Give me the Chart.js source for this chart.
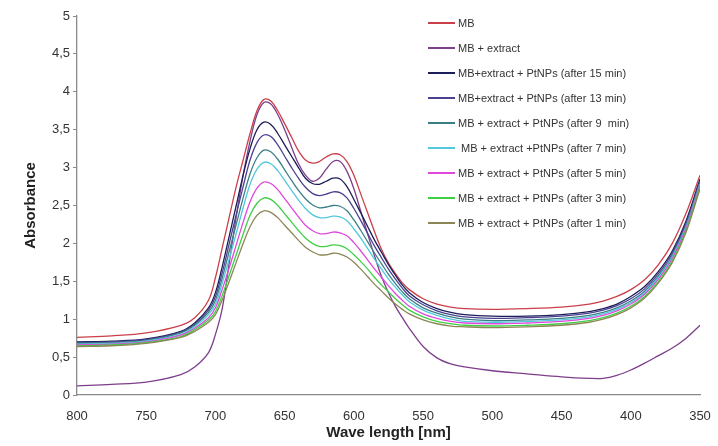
<!DOCTYPE html>
<html>
<head>
<meta charset="utf-8">
<script src="https://cdn.jsdelivr.net/npm/chart.js@4.4.1/dist/chart.umd.min.js"></script>
<style>
  body { margin: 0; background: #fff; }
  #wrap { position: relative; width: 718px; height: 446px; }
  #spectraChart { position: absolute; left: 0; top: 0; }
  #legend-container { position: absolute; left: 428px; top: 11px; font-family: Arial, "Liberation Sans", sans-serif; font-size: 11px; color: #333; }
  .legend-item { display: flex; align-items: center; height: 24.9px; }
  .color-box { display: inline-block; width: 27px; height: 2px; margin-right: 3px; }
  .legend-label { white-space: pre; }
</style>
</head>
<body>
<div id="wrap">
  <canvas id="spectraChart" width="718" height="446"></canvas>
  <div id="legend-container"></div>
</div>
<script>
const wavelengths = [800, 775, 750, 725, 715, 705, 700, 695, 690, 685, 680, 675, 670, 665, 660, 655, 650, 645, 640, 635, 630, 625, 620, 615, 610, 605, 600, 595, 590, 585, 580, 575, 570, 565, 560, 550, 540, 530, 520, 500, 475, 450, 430, 420, 410, 400, 390, 380, 370, 360, 350];

const mb = [0.76, 0.78, 0.82, 0.92, 1.02, 1.25, 1.55, 1.95, 2.35, 2.75, 3.1, 3.45, 3.75, 3.9, 3.88, 3.75, 3.58, 3.4, 3.22, 3.1, 3.06, 3.08, 3.14, 3.18, 3.17, 3.08, 2.9, 2.65, 2.4, 2.15, 1.92, 1.74, 1.6, 1.48, 1.39, 1.27, 1.2, 1.16, 1.14, 1.13, 1.14, 1.16, 1.2, 1.24, 1.3, 1.39, 1.52, 1.72, 2.0, 2.4, 2.9];
const mbExtract = [0.12, 0.14, 0.17, 0.27, 0.37, 0.56, 0.8, 1.15, 1.75, 2.35, 2.9, 3.35, 3.7, 3.86, 3.84, 3.7, 3.5, 3.27, 3.05, 2.9, 2.82, 2.86, 2.98, 3.08, 3.08, 2.95, 2.72, 2.42, 2.12, 1.83, 1.56, 1.35, 1.17, 1.02, 0.88, 0.64, 0.49, 0.41, 0.37, 0.32, 0.28, 0.24, 0.22, 0.22, 0.26, 0.33, 0.42, 0.52, 0.62, 0.75, 0.92];
const after15 = [0.70, 0.71, 0.74, 0.84, 0.95, 1.15, 1.35, 1.7, 2.1, 2.5, 2.9, 3.25, 3.5, 3.6, 3.57, 3.45, 3.3, 3.15, 3.0, 2.86, 2.79, 2.78, 2.82, 2.86, 2.85, 2.75, 2.58, 2.4, 2.22, 2.04, 1.88, 1.72, 1.58, 1.45, 1.35, 1.22, 1.14, 1.09, 1.06, 1.04, 1.04, 1.06, 1.1, 1.14, 1.2, 1.3, 1.43, 1.63, 1.9, 2.3, 2.85];
const after13 = [0.69, 0.70, 0.73, 0.83, 0.93, 1.12, 1.3, 1.62, 2.0, 2.38, 2.75, 3.1, 3.33, 3.43, 3.41, 3.3, 3.15, 3.0, 2.86, 2.74, 2.66, 2.63, 2.65, 2.68, 2.67, 2.6, 2.46, 2.3, 2.13, 1.96, 1.81, 1.66, 1.53, 1.41, 1.31, 1.19, 1.11, 1.06, 1.03, 1.01, 1.02, 1.04, 1.08, 1.12, 1.18, 1.27, 1.4, 1.6, 1.87, 2.27, 2.82];
const after9 = [0.68, 0.69, 0.72, 0.82, 0.92, 1.09, 1.25, 1.55, 1.9, 2.25, 2.6, 2.92, 3.13, 3.23, 3.21, 3.11, 2.97, 2.83, 2.7, 2.59, 2.51, 2.47, 2.48, 2.5, 2.49, 2.43, 2.31, 2.17, 2.02, 1.87, 1.73, 1.59, 1.47, 1.36, 1.27, 1.15, 1.08, 1.03, 1.0, 0.98, 0.99, 1.01, 1.05, 1.09, 1.15, 1.24, 1.37, 1.57, 1.84, 2.24, 2.8];
const after7 = [0.67, 0.68, 0.71, 0.8, 0.9, 1.06, 1.2, 1.48, 1.8, 2.13, 2.47, 2.78, 2.98, 3.07, 3.05, 2.96, 2.83, 2.7, 2.57, 2.46, 2.38, 2.34, 2.34, 2.36, 2.35, 2.3, 2.19, 2.07, 1.93, 1.79, 1.66, 1.53, 1.42, 1.32, 1.23, 1.12, 1.05, 1.0, 0.97, 0.96, 0.97, 0.99, 1.03, 1.07, 1.13, 1.22, 1.35, 1.55, 1.82, 2.22, 2.78];
const after5 = [0.66, 0.67, 0.7, 0.79, 0.88, 1.02, 1.15, 1.4, 1.68, 1.98, 2.28, 2.55, 2.73, 2.81, 2.79, 2.71, 2.59, 2.47, 2.35, 2.24, 2.17, 2.13, 2.13, 2.15, 2.14, 2.1, 2.01, 1.9, 1.78, 1.66, 1.55, 1.44, 1.34, 1.25, 1.17, 1.07, 1.01, 0.97, 0.95, 0.94, 0.95, 0.97, 1.01, 1.05, 1.11, 1.2, 1.33, 1.53, 1.8, 2.2, 2.76];
const after3 = [0.65, 0.66, 0.69, 0.77, 0.86, 0.99, 1.1, 1.32, 1.58, 1.85, 2.12, 2.37, 2.53, 2.6, 2.58, 2.5, 2.39, 2.28, 2.17, 2.07, 2.0, 1.96, 1.96, 1.98, 1.97, 1.93, 1.85, 1.76, 1.66, 1.55, 1.45, 1.36, 1.27, 1.19, 1.12, 1.03, 0.97, 0.94, 0.92, 0.91, 0.92, 0.94, 0.98, 1.02, 1.08, 1.17, 1.3, 1.5, 1.77, 2.17, 2.74];
const after1 = [0.64, 0.65, 0.68, 0.76, 0.84, 0.96, 1.06, 1.26, 1.5, 1.75, 2.0, 2.22, 2.37, 2.43, 2.41, 2.34, 2.24, 2.14, 2.04, 1.95, 1.89, 1.85, 1.85, 1.87, 1.86, 1.82, 1.75, 1.66, 1.56, 1.46, 1.37, 1.28, 1.2, 1.13, 1.07, 0.99, 0.94, 0.91, 0.9, 0.89, 0.9, 0.92, 0.96, 1.0, 1.06, 1.15, 1.28, 1.48, 1.75, 2.15, 2.72];

const seriesLabels = [
    'MB',
    'MB + extract',
    'MB+extract + PtNPs (after 15 min)',
    'MB+extract + PtNPs (after 13 min)',
    'MB + extract + PtNPs (after 9  min)',
    ' MB + extract +PtNPs (after 7 min)',
    'MB + extract + PtNPs (after 5 min)',
    'MB + extract + PtNPs (after 3 min)',
    'MB + extract + PtNPs (after 1 min)'
];
const seriesValues = [mb, mbExtract, after15, after13, after9, after7, after5, after3, after1];
const seriesColors = ['#c9404a', '#7d3f8c', '#1d1d5a', '#4a4290', '#3b7f86', '#52c8dc', '#e048dc', '#3fcf45', '#8c8656'];

const yTicks = [0, 0.5, 1, 1.5, 2, 2.5, 3, 3.5, 4, 4.5, 5];

const datasets = seriesValues.map((vals, i) => ({
    label: seriesLabels[i],
    data: vals.map((v, j) => ({ x: wavelengths[j], y: v })),
    borderColor: seriesColors[i],
    borderWidth: 1.3,
    pointRadius: 0,
    fill: false,
    tension: 0.35
})).reverse();

const ctx = document.getElementById('spectraChart').getContext('2d');

const spectraChart = new Chart(ctx, {
    type: 'line',
    data: { datasets: datasets },
    options: {
        responsive: false,
        animation: false,
        layout: {
            padding: { left: 18, right: 18, top: 16, bottom: 0 }
        },
        plugins: {
            legend: { display: false },
            tooltip: { enabled: false }
        },
        scales: {
            x: {
                type: 'linear',
                reverse: true,
                min: 350,
                max: 800,
                grid: { display: false },
                border: { display: true, color: '#8a8a8a', width: 1.3 },
                ticks: {
                    stepSize: 50,
                    padding: 6,
                    color: '#333',
                    font: { family: 'Arial, "Liberation Sans", sans-serif', size: 13 }
                },
                title: {
                    display: true,
                    text: 'Wave length [nm]',
                    color: '#222',
                    font: { family: 'Arial, "Liberation Sans", sans-serif', size: 15, weight: 'bold' }
                },
                afterFit: function(scale) {
                    scale.height = 51;
                }
            },
            y: {
                min: 0,
                max: 5,
                afterBuildTicks: function(scale) {
                    scale.ticks = yTicks.map(v => ({ value: v }));
                },
                grid: {
                    drawOnChartArea: false,
                    drawTicks: true,
                    tickLength: 4,
                    color: '#8a8a8a'
                },
                border: { display: true, color: '#8a8a8a', width: 1.3 },
                ticks: {
                    padding: 3,
                    color: '#333',
                    font: { family: 'Arial, "Liberation Sans", sans-serif', size: 13 },
                    callback: function(value) {
                        return String(value).replace('.', ',');
                    }
                },
                title: {
                    display: true,
                    text: 'Absorbance',
                    color: '#222',
                    font: { family: 'Arial, "Liberation Sans", sans-serif', size: 15, weight: 'bold' }
                },
                afterFit: function(scale) {
                    scale.width = 59;
                }
            }
        }
    }
});

function createSpectraLegend() {
    const legendContainer = document.getElementById('legend-container');
    legendContainer.innerHTML = '';
    seriesLabels.forEach((label, i) => {
        const legendItem = document.createElement('div');
        legendItem.classList.add('legend-item');

        const colorBox = document.createElement('span');
        colorBox.classList.add('color-box');
        colorBox.style.backgroundColor = seriesColors[i];

        const labelSpan = document.createElement('span');
        labelSpan.classList.add('legend-label');
        labelSpan.textContent = label;

        legendItem.appendChild(colorBox);
        legendItem.appendChild(labelSpan);
        legendContainer.appendChild(legendItem);
    });
}

createSpectraLegend();
</script>
</body>
</html>
